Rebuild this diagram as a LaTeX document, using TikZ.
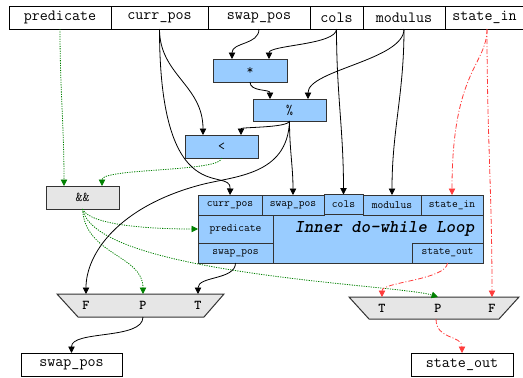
\documentclass[tikz,border=0pt]{standalone}
\usepackage{fontspec}
\usetikzlibrary{arrows.meta}
\definecolor{blu}{HTML}{99CCFF}
\definecolor{gry}{HTML}{E6E6E6}
\definecolor{grn}{HTML}{008000}
\definecolor{rd}{HTML}{FF3B3B}
\definecolor{bord}{HTML}{333333}
\begin{document}
\begin{tikzpicture}[x=1pt,y=1pt,
  every node/.style={inner sep=0pt, outer sep=0pt},
  io/.style={draw=black, line width=0.8pt, fill=white, minimum height=23pt,
    font=\ttfamily\fontsize{15.6}{16}\selectfont},
  opbox/.style={draw=bord, line width=1pt, fill=blu, minimum height=23pt,
    font=\ttfamily\fontsize{13.5}{14}\selectfont},
  andbox/.style={opbox, fill=gry},
  loopbox/.style={draw=bord, line width=1pt, fill=blu},
  port/.style={draw=bord, line width=0.8pt, fill=blu,
    font=\ttfamily\fontsize{11.2}{12}\selectfont},
  looptitle/.style={font=\ttfamily\bfseries\itshape\fontsize{18}{18}\selectfont},
  muxshape/.style={draw=bord, line width=1pt, fill=gry},
  muxlab/.style={font=\ttfamily\bfseries\fontsize{13.5}{14}\selectfont},
  tip/.style={-{Triangle[length=6.5pt,width=6.5pt]}},
  blk/.style={tip, draw=black, line width=0.8pt},
  grnline/.style={tip, draw=grn, line width=0.8pt, dash pattern=on 1.2pt off 1.2pt},
  redline/.style={tip, draw=rd, line width=0.8pt, dash pattern=on 5pt off 2pt on 1pt off 2pt},
]
\useasboundingbox (0,0) rectangle (523,-378);

% top row inputs
\node[io, minimum width=102pt] (predicate) at (60,-17.5) {predicate};
\node[io, minimum width=97pt] (currpos) at (159.5,-17.5) {curr\_pos};
\node[io, minimum width=102pt] (swappos) at (259,-17.5) {swap\_pos};
\node[io, minimum width=53pt] (cols) at (336.5,-17.5) {cols};
\node[io, minimum width=82pt] (modulus) at (404,-17.5) {modulus};
\node[io, minimum width=79pt] (statein) at (484.5,-17.5) {state\_in};

% operators
\node[opbox, minimum width=74pt] (mul) at (250,-70.5) {*};
\node[opbox, minimum width=73pt, minimum height=22pt] (mod) at (289.5,-110) {\%};
\node[opbox, minimum width=73pt] (lt) at (221.5,-146.5) {<};
\node[andbox, minimum width=73pt] (and) at (82.5,-197.5) {\&\&};

% inner loop
\node[loopbox, minimum width=285pt, minimum height=68pt] (loop) at (340.5,-229) {};
\node[looptitle] (looptitle) at (384.5,-229) {Inner do-while Loop};
\node[port, minimum width=64pt, minimum height=20pt] (pcur) at (230,-205) {curr\_pos};
\node[port, minimum width=62pt, minimum height=20pt] (pswap) at (293,-205) {swap\_pos};
\node[port, minimum width=39pt, minimum height=20pt] (pcols) at (343.5,-204.5) {cols};
\node[port, minimum width=58pt, minimum height=20pt] (pmod) at (392,-205) {modulus};
\node[port, minimum width=62pt, minimum height=20pt] (pstate) at (452,-205) {state\_in};
\node[port, minimum width=75pt, minimum height=28pt] (ppred) at (235.5,-229) {predicate};
\node[port, minimum width=75pt, minimum height=20pt] (pswapo) at (235.5,-253) {swap\_pos};
\node[port, minimum width=71pt, minimum height=20pt] (pstateo) at (447.5,-253) {state\_out};

% muxes
\draw[muxshape] (57,-294) -- (224,-294) -- (204,-317) -- (78,-317) -- cycle;
\node[muxlab] (lmF) at (86,-305) {F};
\node[muxlab] (lmP) at (143,-305) {P};
\node[muxlab] (lmT) at (198,-305) {T};
\coordinate (lmtop) at (140,-294);
\coordinate (lmout) at (143,-317);

\draw[muxshape] (349,-297) -- (519,-297) -- (499,-319) -- (369,-319) -- cycle;
\node[muxlab] (rmT) at (382,-308) {T};
\node[muxlab] (rmP) at (438,-308) {P};
\node[muxlab] (rmF) at (492,-308) {F};
\coordinate (rmtop) at (434,-297);
\coordinate (rmout) at (436,-319);

% outputs
\node[io, minimum width=101pt] (swapout) at (71.5,-364.5) {swap\_pos};
\node[io, minimum width=102pt] (stateout) at (462,-364.5) {state\_out};

% green predicate edges
\draw[grnline] (predicate.south) to[out=-90,in=90] ([xshift=-18.5pt]and.north);
\draw[grnline] (lt.south) to[out=-90,in=90,out distance=14pt,in distance=18pt] ([xshift=19.5pt]and.north);
\draw[grnline] (and.south) to[out=-65,in=180,out distance=18pt,in distance=48pt] (ppred.west);
\draw[grnline] (and.south) to[out=-87,in=90,out distance=46pt,in distance=39pt] (lmP |- lmtop);
\draw[grnline] (and.south) to[out=-79,in=162,out distance=67pt,in distance=40pt] (rmP |- rmtop);

% black data edges
\draw[blk] (currpos.south) to[out=-90,in=90,out distance=46pt,in distance=50pt] ([xshift=-18.5pt]lt.north);
\draw[blk] (currpos.south) to[out=-90,in=88,out distance=186pt,in distance=30pt] (pcur.north);
\draw[blk] (swappos.south) to[out=-90,in=90,out distance=16pt,in distance=17pt] ([xshift=-18pt]mul.north);
\draw[blk] (cols.south) to[out=-90,in=90,out distance=16pt,in distance=14pt] ([xshift=19pt]mul.north);
\draw[blk] (cols.south) to[out=-90,in=90] (pcols.north);
\draw[blk] (modulus.south) to[out=-90,in=90,out distance=31pt,in distance=29pt] ([xshift=18.5pt]mod.north);
\draw[blk] (modulus.south) to[out=-90,in=90] (pmod.north);
\draw[blk] (mul.south) to[out=-90,in=90,out distance=10pt,in distance=10pt] ([xshift=-19.5pt]mod.north);
\draw[blk] (mod.south) to[out=-100,in=90,out distance=7pt,in distance=8pt] ([xshift=19.5pt]lt.north);
\draw[blk] (mod.south) to[out=-90,in=90] (pswap.north);
\draw[blk] (mod.south) to[out=-92,in=15,out distance=55pt,in distance=35pt] (200,-185)
   to[out=195,in=90,out distance=85pt,in distance=40pt] (lmF |- lmtop);
\draw[blk] (pswapo.south) to[out=-90,in=90,out distance=17pt,in distance=18pt] (lmT |- lmtop);
\draw[blk] (lmout) to[out=-90,in=90,out distance=23pt,in distance=23pt] (swapout.north);

% red state edges
\draw[redline] ([xshift=2.5pt]statein.south) to[out=-90,in=90,out distance=36pt,in distance=125pt] (pstate.north);
\draw[redline] ([xshift=2.5pt]statein.south) to[out=-90,in=90] (rmF |- rmtop);
\draw[redline] (pstateo.south) to[out=-95,in=90,out distance=17pt,in distance=15pt] (rmT |- rmtop);
\draw[redline] (rmout) to[out=-90,in=90,out distance=21pt,in distance=18pt] (stateout.north);
\end{tikzpicture}
\end{document}
